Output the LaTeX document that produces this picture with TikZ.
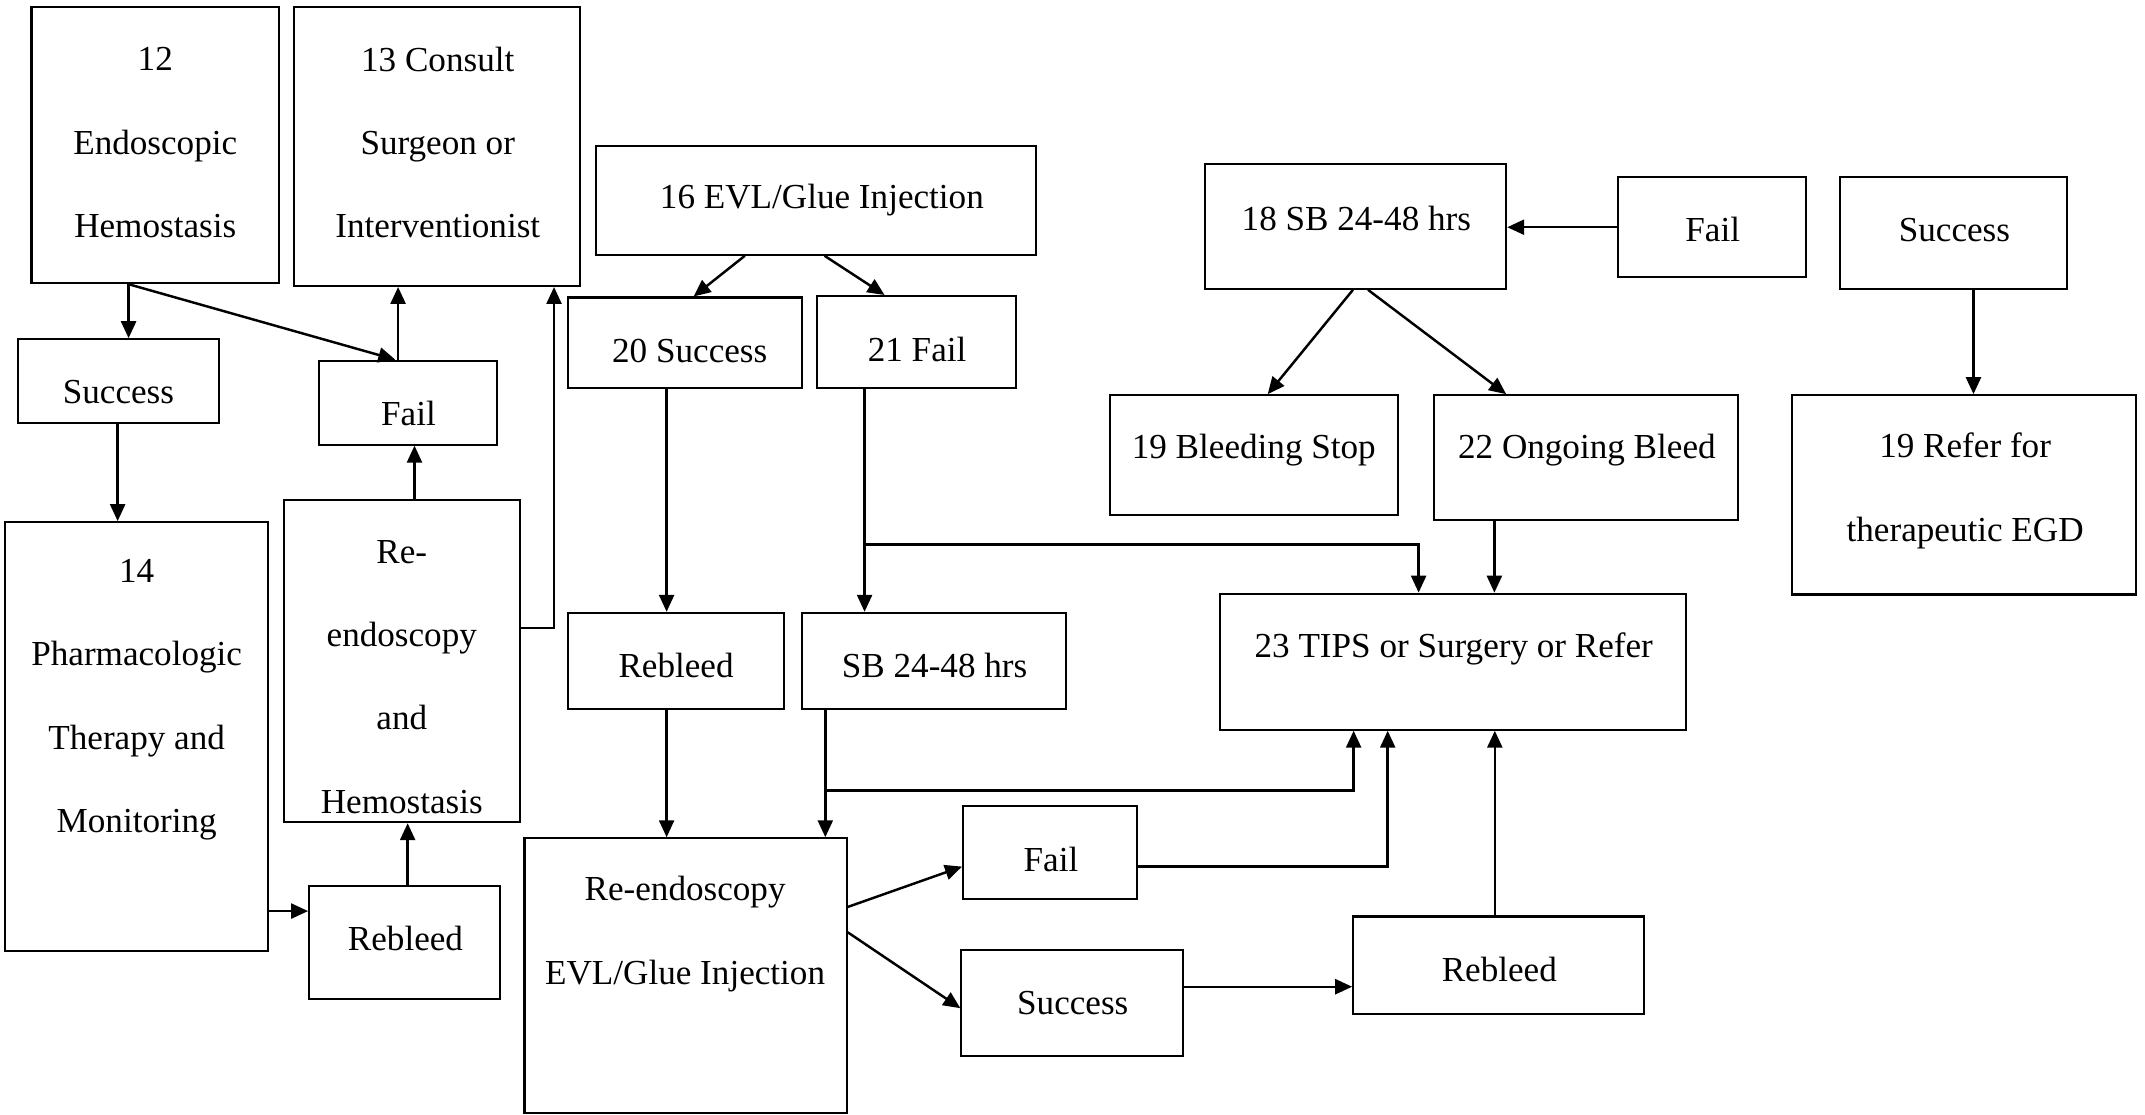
\documentclass[tikz,border=0pt]{standalone}
\usepackage{fontspec}
\setmainfont{Liberation Serif}
\usetikzlibrary{arrows.meta,fit}

\begin{document}
\begin{tikzpicture}[x=0.01368cm, y=-0.01368cm,
  font=\fontsize{10pt}{23.7pt}\selectfont,
  box/.style={draw, line width=0.6pt, inner sep=0pt},
  txt/.style={align=center, inner sep=0pt, yshift=-0.9pt},
  ar/.style={-{Triangle[length=1.7mm,width=1.5mm]}, line width=0.7pt}]
\useasboundingbox (0,0) rectangle (1568,815);
% left column
\node[box, fit={(23,5) (204,207)}] (b12) {};
\node[box, fit={(215,5) (424,209)}] (b13) {};
\node[box, fit={(13,248) (160,309.4)}] (bsucc) {};
\node[box, fit={(233,263.7) (363.6,325)}] (bfail) {};
\node[box, fit={(3.4,381.7) (196,695)}] (b14) {};
\node[box, fit={(207.3,365.5) (380.2,601)}] (brh) {};
\node[box, fit={(226,647.8) (365.5,730)}] (brbl) {};
% middle column
\node[box, fit={(435.5,106.7) (757.5,186.2)}] (b16) {};
\node[box, fit={(415,217.5) (586.5,283.8)}] (b20) {};
\node[box, fit={(597.4,216.4) (743,283.8)}] (b21) {};
\node[box, fit={(415,448) (572.8,518)}] (brbm) {};
\node[box, fit={(586.5,448) (779.5,518)}] (bsb) {};
\node[box, fit={(383.4,612.8) (618.9,813.6)}] (bre) {};
\node[box, fit={(704,589.2) (831,657.4)}] (bfl) {};
\node[box, fit={(702.8,694.5) (864.5,771.7)}] (bsl) {};
\node[box, fit={(989.2,670) (1201.8,741.5)}] (brbr) {};
% right column
\node[box, fit={(891.7,434) (1232.6,533.4)}] (b23) {};
\node[box, fit={(881,120.2) (1101,211.1)}] (b18) {};
\node[box, fit={(1183,129.2) (1320,202.5)}] (bfr) {};
\node[box, fit={(1345,129.2) (1511,211.1)}] (bsr) {};
\node[box, fit={(811.3,288.9) (1022,376.7)}] (b19s) {};
\node[box, fit={(1048.5,288.9) (1270.6,380.4)}] (b22) {};
\node[box, fit={(1310,288.9) (1561.5,434.6)}] (b19r) {};

% texts
\node[txt] (t12) at (113.5,102) {12\\Endoscopic\\Hemostasis};
\node[txt] (t13) at (320,102) {13 Consult\\Surgeon or\\Interventionist};
\node[txt] (tsucc) at (86.6,284.6) {Success};
\node[txt] (tfail) at (298.6,300.3) {Fail};
\node[txt] (t14) at (99.9,509.2) {14\\Pharmacologic\\Therapy and\\Monitoring};
\node[txt] (trh) at (293.7,492.5) {Re-\\endoscopy\\and\\Hemostasis};
\node[txt] (trbl) at (296.4,683.8) {Rebleed};
\node[txt] (t16) at (600.8,144) {16 EVL/Glue Injection};
\node[txt] (t20) at (504.2,254.4) {20 Success};
\node[txt] (t21) at (670.4,253) {21 Fail};
\node[txt] (trbm) at (494.2,483.8) {Rebleed};
\node[txt] (tsb) at (683.2,484.4) {SB 24-48 hrs};
\node[txt] (tre) at (500.8,680.5) {Re-endoscopy\\EVL/Glue Injection};
\node[txt] (tfl) at (768.3,626.2) {Fail};
\node[txt] (tsl) at (784.2,731) {Success};
\node[txt] (trbr) at (1096,706.6) {Rebleed};
\node[txt] (t23) at (1062.7,471.8) {23 TIPS or Surgery or Refer};
\node[txt] (t18) at (991.5,157.7) {18 SB 24-48 hrs};
\node[txt] (tfr) at (1252,165.5) {Fail};
\node[txt] (tsr) at (1428.7,165.5) {Success};
\node[txt] (t19s) at (916.5,326.4) {19 Bleeding Stop};
\node[txt] (t22) at (1160,326.4) {22 Ongoing Bleed};
\node[txt] (t19r) at (1436.5,356.5) {19 Refer for\\therapeutic EGD};

% straight vertical arrows
\foreach \a/\b/\x in {b12/bsucc/94, bsucc/b14/86, b20/brbm/487.3, b21/bsb/632,
    brbm/bre/487.3, bsb/bre/603.3, b22/b23/1092.4, bsr/b19r/1442.6}
  \draw[ar] (\a.south -| \x,0) -- (\b.north -| \x,0);
\foreach \a/\b/\x in {bfail/b13/291, brh/bfail/303, brbl/brh/298, brbr/b23/1092.7}
  \draw[ar] (\a.north -| \x,0) -- (\b.south -| \x,0);

% slanted and elbow arrows
\draw[ar] (b12.south -| 94,0) -- (bfail.north -| 289,0);
\draw[ar] (brh.east |- 0,459) -| (b13.south -| 405,0);
\draw[ar] (b14.east |- 0,666) -- (brbl.west |- 0,666);
\draw[ar] (b16.south -| 544.5,0) -- (b20.north -| 507,0);
\draw[ar] (b16.south -| 602.7,0) -- (b21.north -| 646.6,0);
\coordinate (j21) at (632,398);
\draw[ar] (j21) -| (b23.north -| 1037,0);
\coordinate (jsb) at (603.3,578);
\draw[ar] (jsb) -| (b23.south -| 989.5,0);
\draw[ar] (bre.east |- 0,663) -- (bfl.west |- 0,633.5);
\draw[ar] (bre.east |- 0,681.5) -- (bsl.west |- 0,737);
\draw[ar] (bfl.east |- 0,633.5) -| (b23.south -| 1014.4,0);
\draw[ar] (bsl.east |- 0,721.3) -- (brbr.west |- 0,721.3);
\draw[ar] (bfr.west |- 0,166.1) -- (b18.east |- 0,166.1);
\draw[ar] (b18.south -| 989,0) -- (b19s.north -| 926.7,0);
\draw[ar] (b18.south -| 1000,0) -- (b22.north -| 1101,0);
\end{tikzpicture}
\end{document}
